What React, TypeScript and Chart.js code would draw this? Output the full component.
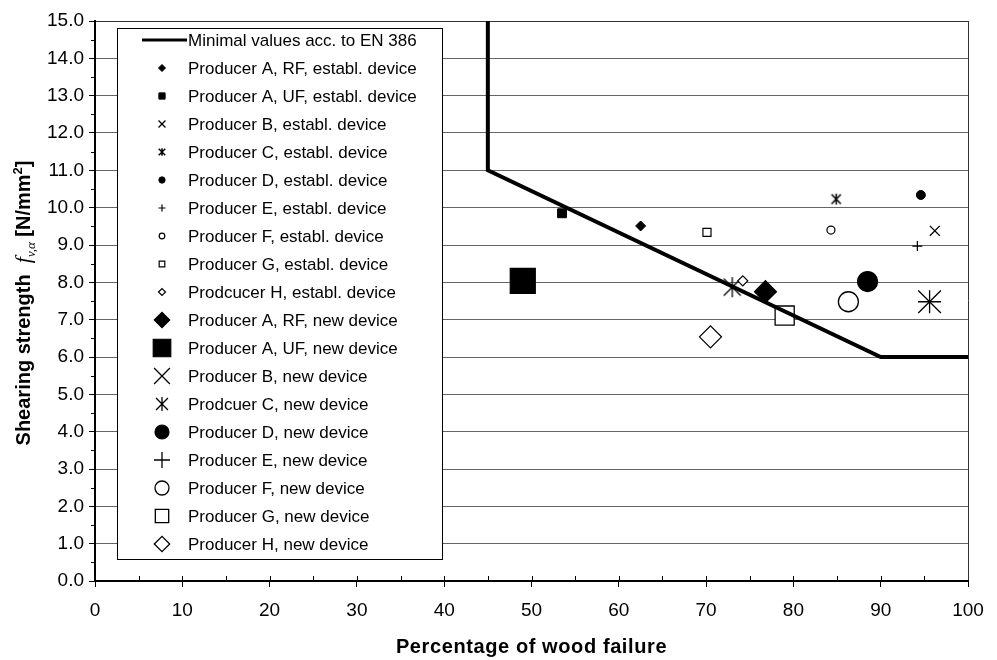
import React, { useEffect, useRef } from "react";
import { Chart, registerables } from "chart.js";
import { drawPoint } from "chart.js/helpers";

Chart.register(...registerables);

// ---------- data ----------
const limitLabel = "Minimal values acc. to EN 386";
const limitX = [45, 45, 90, 100];
const limitY = [15, 11, 6, 6];

const seriesLabels = [
  "Producer A, RF, establ. device",
  "Producer A, UF, establ. device",
  "Producer B, establ. device",
  "Producer C, establ. device",
  "Producer D, establ. device",
  "Producer E, establ. device",
  "Producer F, establ. device",
  "Producer G, establ. device",
  "Prodcucer H, establ. device",
  "Producer A, RF, new device",
  "Producer A, UF, new device",
  "Producer B, new device",
  "Prodcuer C, new device",
  "Producer D, new device",
  "Producer E, new device",
  "Producer F, new device",
  "Producer G, new device",
  "Producer H, new device",
];
const seriesX = [62.5, 53.5, 96.2, 84.9, 94.6, 94.2, 84.3, 70.1, 74.2, 76.8, 49.0, 95.6, 73.0, 88.5, 95.6, 86.3, 79.0, 70.5];
const seriesY = [9.51, 9.85, 9.38, 10.23, 10.34, 8.97, 9.4, 9.34, 8.04, 7.75, 8.04, 7.48, 7.87, 8.02, 7.48, 7.48, 7.11, 6.54];

const xAxisTitle = "Percentage of wood failure";

// ---------- styles ----------
const markerShapes = [
  "rectRot", "rect", "crossRot", "asterisk", "circle", "cross", "circle", "rect", "rectRot",
  "rectRot", "rect", "crossRot", "asterisk", "circle", "cross", "circle", "rect", "rectRot",
];
const markerFilled = [
  true, true, false, false, true, false, false, false, false,
  true, true, false, false, true, false, false, false, false,
];
const markerRadius = [5, 6.3, 7, 5.5, 4.5, 5, 4, 5.7, 5, 11, 17.7, 16, 10, 10, 11.5, 10, 13.5, 11];
const markerLine = [1, 1, 1.3, 1.5, 1, 1.2, 1.2, 1.2, 1.2, 1.2, 1.2, 1.3, 1.3, 1.2, 1.3, 1.3, 1.3, 1.3];
const legendScale = 0.7;

const FONT = '"Liberation Sans", Arial, Helvetica, sans-serif';
const SERIF = '"Liberation Serif", "Times New Roman", serif';

function makeAsterisk(r: number, lw: number): HTMLCanvasElement {
  const pad = Math.ceil(lw) + 1;
  const size = Math.ceil(2 * r + 2 * pad);
  const c = document.createElement("canvas");
  c.width = size;
  c.height = size;
  const g = c.getContext("2d")!;
  const m = size / 2;
  const d = r * 0.85;
  g.strokeStyle = "#000";
  g.lineWidth = lw;
  g.beginPath();
  g.moveTo(m - d, m - d);
  g.lineTo(m + d, m + d);
  g.moveTo(m + d, m - d);
  g.lineTo(m - d, m + d);
  g.moveTo(m, m - r);
  g.lineTo(m, m + r);
  g.stroke();
  return c;
}

function pointStyleFor(i: number, scale: number): any {
  const s = markerShapes[i];
  if (s === "asterisk") return makeAsterisk(markerRadius[i] * scale, markerLine[i]);
  return s;
}

const decorPlugin = {
  id: "decor",
  afterDraw(chart: any) {
    const ctx: CanvasRenderingContext2D = chart.ctx;
    const area = chart.chartArea;
    const xs = chart.scales.x;
    const ys = chart.scales.y;

    // extra tick marks: x ticks reaching above the axis, short minor y ticks
    ctx.save();
    ctx.strokeStyle = "#000";
    ctx.lineWidth = 1;
    ctx.beginPath();
    for (let v = 5; v < 100; v += 5) {
      const px = Math.round(xs.getPixelForValue(v)) + 0.5;
      ctx.moveTo(px, area.bottom);
      ctx.lineTo(px, area.bottom - 5);
      if (v % 10 !== 0) {
        // minor: only above
      }
    }
    for (let v = 0.5; v < 15; v += 1) {
      const py = Math.round(ys.getPixelForValue(v)) + 0.5;
      ctx.moveTo(area.left, py);
      ctx.lineTo(area.left - 4, py);
    }
    ctx.stroke();
    ctx.restore();

    // x axis title
    ctx.save();
    ctx.fillStyle = "#000";
    ctx.font = `bold 20px ${FONT}`;
    (ctx as any).letterSpacing = "0.6px";
    ctx.textAlign = "center";
    ctx.textBaseline = "middle";
    ctx.fillText(xAxisTitle, (area.left + area.right) / 2, 647);
    ctx.restore();

    // y axis title (rich text)
    ctx.save();
    ctx.translate(23, 303);
    ctx.rotate(-Math.PI / 2);
    ctx.fillStyle = "#000";
    ctx.textAlign = "left";
    ctx.textBaseline = "alphabetic";
    const bold = `bold 20px ${FONT}`;
    const parts = [
      { t: "Shearing strength  ", f: bold, dy: 0 },
      { t: "f", f: `italic 22px ${SERIF}`, dy: 0 },
      { t: "v,α", f: `italic 13px ${SERIF}`, dy: 5 },
      { t: " [N/mm", f: bold, dy: 0 },
      { t: "2", f: `bold 13px ${FONT}`, dy: -8 },
      { t: "]", f: bold, dy: 0 },
    ];
    let total = 0;
    const widths = parts.map((p) => {
      ctx.font = p.f;
      const w = ctx.measureText(p.t).width;
      total += w;
      return w;
    });
    let x = -total / 2;
    parts.forEach((p, i) => {
      ctx.font = p.f;
      ctx.fillText(p.t, x, 7 + p.dy);
      x += widths[i];
    });
    ctx.restore();

    // legend
    const lx = 118, ly = 28, lw = 325, lh = 531;
    ctx.save();
    ctx.fillStyle = "#fff";
    ctx.fillRect(lx, ly, lw, lh);
    ctx.strokeStyle = "#000";
    ctx.lineWidth = 1;
    ctx.strokeRect(lx - 0.5, ly + 0.5, lw, lh);

    const textX = 188;
    const symX = 162;
    const firstY = 40;
    const step = 28;
    ctx.font = `17px ${FONT}`;
    ctx.textBaseline = "middle";
    ctx.textAlign = "left";
    ctx.fillStyle = "#000";

    // line item
    ctx.beginPath();
    ctx.lineWidth = 3;
    ctx.moveTo(142, firstY);
    ctx.lineTo(187, firstY);
    ctx.stroke();
    ctx.fillText(limitLabel, textX, firstY + 1);

    seriesLabels.forEach((label, i) => {
      const y = firstY + step * (i + 1);
      ctx.save();
      ctx.fillStyle = markerFilled[i] ? "#000" : "#fff";
      ctx.strokeStyle = "#000";
      ctx.lineWidth = markerLine[i];
      drawPoint(ctx, {
        pointStyle: pointStyleFor(i, legendScale),
        radius: markerRadius[i] * legendScale,
        rotation: 0,
        borderWidth: markerLine[i],
      } as any, symX, y);
      ctx.restore();
      ctx.fillStyle = "#000";
      ctx.fillText(label, textX, y + 1);
    });
    ctx.restore();
  },
};

export default function App() {
  const ref = useRef<HTMLCanvasElement>(null);

  useEffect(() => {
    const canvas = ref.current;
    if (!canvas) return;
    Chart.defaults.font.family = FONT;
    Chart.defaults.color = "#000";

    const lineDataset: any = {
      type: "scatter",
      label: limitLabel,
      data: limitX.map((x, i) => ({ x, y: limitY[i] })),
      showLine: true,
      borderColor: "#000",
      backgroundColor: "#000",
      borderWidth: 4,
      borderJoinStyle: "miter",
      pointRadius: 0,
      pointHoverRadius: 0,
      tension: 0,
      fill: false,
      order: 0,
    };

    const markerDatasets: any[] = seriesLabels.map((label, i) => ({
      type: "scatter",
      label,
      data: [{ x: seriesX[i], y: seriesY[i] }],
      pointStyle: pointStyleFor(i, 1),
      pointRadius: markerRadius[i],
      pointHoverRadius: markerRadius[i],
      pointBackgroundColor: markerFilled[i] ? "#000" : "#fff",
      pointBorderColor: "#000",
      pointBorderWidth: markerLine[i],
      showLine: false,
      order: 1,
    }));

    const chart = new Chart(canvas, {
      type: "scatter",
      data: { datasets: [lineDataset, ...markerDatasets] },
      options: {
        responsive: false,
        animation: false,
        events: [],
        layout: { padding: { left: 0, top: 21, right: 29, bottom: 0 } },
        plugins: {
          legend: { display: false },
          tooltip: { enabled: false },
          title: { display: false },
        },
        scales: {
          x: {
            type: "linear",
            min: 0,
            max: 100,
            afterFit: (s: any) => {
              s.height = 79;
            },
            ticks: {
              stepSize: 5,
              autoSkip: false,
              maxRotation: 0,
              padding: 12,
              font: { size: 19 },
              color: "#000",
              callback: (v: any) => (Number(v) % 10 === 0 ? String(v) : ""),
            },
            grid: {
              color: (c: any) => (c.tick && c.tick.value === 100 ? "#333" : "rgba(0,0,0,0)"),
              tickColor: (c: any) => (c.tick && c.tick.value % 10 === 0 ? "#000" : "rgba(0,0,0,0)"),
              tickLength: 6,
              lineWidth: 1,
            },
            border: { color: "#000", width: 2 },
          },
          y: {
            type: "linear",
            min: 0,
            max: 15,
            afterFit: (s: any) => {
              s.width = 95;
            },
            ticks: {
              stepSize: 0.5,
              autoSkip: false,
              padding: 5,
              font: { size: 19 },
              color: "#000",
              callback: (v: any) => (Number(v) % 1 === 0 ? Number(v).toFixed(1) : ""),
            },
            grid: {
              color: (c: any) => {
                const v = c.tick ? c.tick.value : 0;
                if (v % 1 !== 0) return "rgba(0,0,0,0)";
                return v === 15 ? "#333" : "#666";
              },
              tickColor: (c: any) => (c.tick && c.tick.value % 1 === 0 ? "#000" : "rgba(0,0,0,0)"),
              tickLength: 6,
              lineWidth: 1,
            },
            border: { color: "#000", width: 2 },
          },
        },
      },
      plugins: [decorPlugin],
    } as any);

    return () => chart.destroy();
  }, []);

  return (
    <div style={{ position: "absolute", left: 0, top: 0, width: 997, height: 660, background: "#fff" }}>
      <canvas ref={ref} width={997} height={660} style={{ display: "block" }} />
    </div>
  );
}
